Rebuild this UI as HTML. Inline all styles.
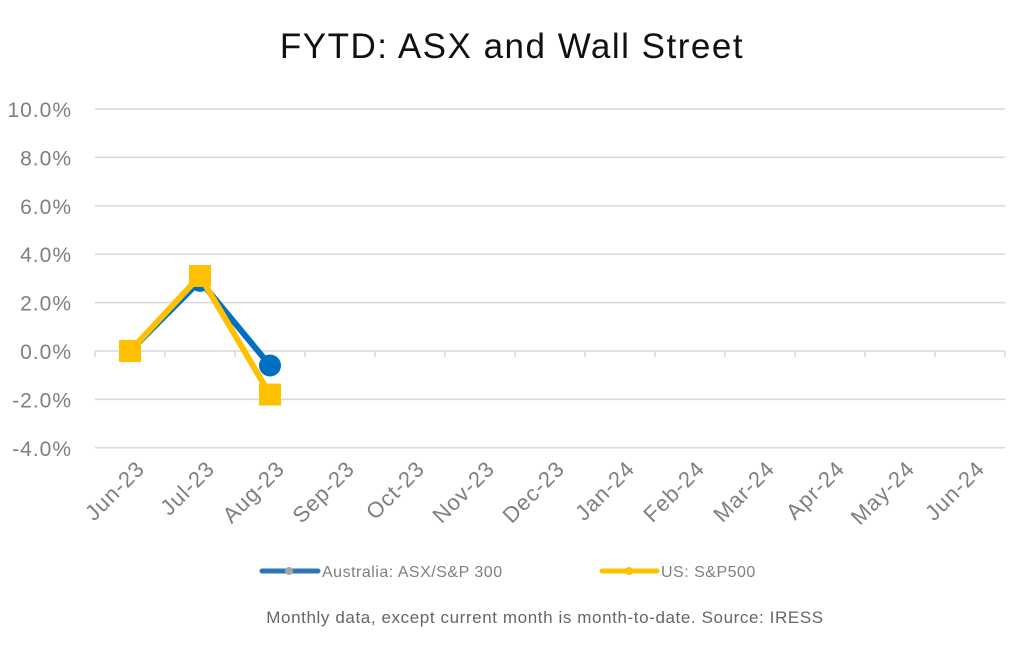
<!DOCTYPE html>
<html><head><meta charset="utf-8"><style>
body{margin:0;background:#fff;width:1024px;height:654px;overflow:hidden;font-family:"Liberation Sans",sans-serif}
</style></head><body>
<svg id="chart" width="1024" height="654" xmlns="http://www.w3.org/2000/svg">
<text x="512" y="58" text-anchor="middle" font-size="35" letter-spacing="1.5" fill="#111">FYTD: ASX and Wall Street</text>
<g id="grid"></g><g id="yticks"></g><g id="xticks"></g><g id="series"></g>
<g>
<g>
<line x1="262" y1="571" x2="318" y2="571" stroke="#2E75B6" stroke-width="5" stroke-linecap="round"/>
<circle cx="289" cy="571" r="4" fill="#A5A5A5"/>
<text x="322" y="577" font-size="16" letter-spacing="0.5" fill="#7f7f7f">Australia: ASX/S&amp;P 300</text></g>
<g>
<line x1="602" y1="571" x2="657" y2="571" stroke="#FFC000" stroke-width="5" stroke-linecap="round"/>
<circle cx="629" cy="571" r="4" fill="#FFC000"/>
<text x="661" y="577" font-size="16" letter-spacing="0.5" fill="#7f7f7f">US: S&amp;P500</text></g>
</g>
<text x="545" y="623" text-anchor="middle" font-size="17" letter-spacing="0.6" fill="#666">Monthly data, except current month is month-to-date.  Source: IRESS</text>
</svg>
<script>
const categories=["Jun-23","Jul-23","Aug-23","Sep-23","Oct-23","Nov-23","Dec-23","Jan-24","Feb-24","Mar-24","Apr-24","May-24","Jun-24"];
const asxValues=[0,2.9,-0.6];
const usValues=[0,3.1,-1.8];
const yTicks=[10,8,6,4,2,0,-2,-4];
const NS="http://www.w3.org/2000/svg";
const L=95,R=1005,step=(R-L)/categories.length;
const x=i=>L+step*(i+0.5);
const y=v=>351-v*24.2;
function mk(t,a,p){const e=document.createElementNS(NS,t);for(const k in a)e.setAttribute(k,a[k]);p.appendChild(e);return e;}
const g=document.getElementById('grid'),yt=document.getElementById('yticks'),xt=document.getElementById('xticks'),s=document.getElementById('series');
yTicks.forEach(v=>{
 const ln=mk('line',{x1:L,x2:R,y1:y(v),y2:y(v),stroke:'#d9d9d9','stroke-width':1.5},g);
 
 
 const t=mk('text',{x:72,y:y(v)+8,'text-anchor':'end','font-size':21,'letter-spacing':1,fill:'#7f7f7f'},yt);
 t.textContent=v.toFixed(1)+'%';
 
 
});
for(let i=0;i<=categories.length;i++){
 const tk=mk('line',{x1:L+step*i,x2:L+step*i,y1:y(0),y2:y(0)+6,stroke:'#d9d9d9','stroke-width':1.5},xt);
 
 
}
categories.forEach((c,i)=>{
 const t=mk('text',{x:x(i)+16,y:470,'text-anchor':'end','font-size':22,'letter-spacing':1,fill:'#7f7f7f',transform:`rotate(-45 ${x(i)+16} 470)`},xt);
 t.textContent=c;
 
 
});
function series(vals,color,name,square){
 const pl=mk('polyline',{points:vals.map((v,i)=>x(i)+','+y(v)).join(' '),fill:'none',stroke:color,'stroke-width':6,'stroke-linejoin':'round'},s);
 
 
 vals.forEach((v,i)=>{
  let m;
  if(square) m=mk('rect',{x:x(i)-11,y:y(v)-11,width:22,height:22,fill:color},s);
  else m=mk('circle',{cx:x(i),cy:y(v),r:11,fill:color},s);
  
  
 });
}
series(asxValues,'#0070C0','asx',false);
series(usValues,'#FFC000','us',true);
</script>
</body></html>
